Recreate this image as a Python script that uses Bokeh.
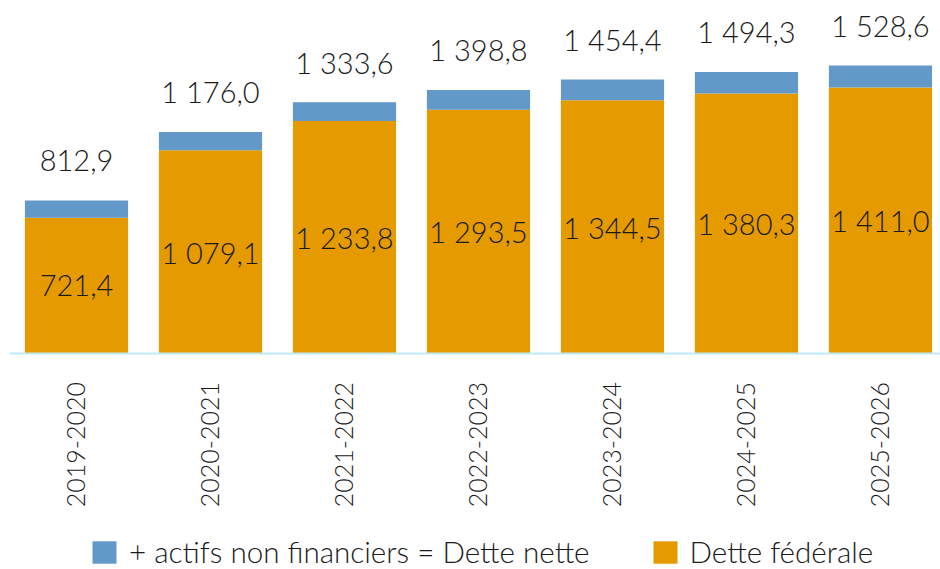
import math
from bokeh.plotting import figure
from bokeh.models import ColumnDataSource, Range1d, FixedTicker, Legend, LegendItem
from bokeh.core.properties import value
from bokeh.embed import file_html
from bokeh.resources import INLINE

years = ["2019-2020", "2020-2021", "2021-2022", "2022-2023", "2023-2024", "2024-2025", "2025-2026"]
dette_federale = [721.4, 1079.1, 1233.8, 1293.5, 1344.5, 1380.3, 1411.0]
dette_nette = [812.9, 1176.0, 1333.6, 1398.8, 1454.4, 1494.3, 1528.6]

ORANGE = "#E59B00"
BLUE = "#6399C9"
FONT = "Lato Light"
TXT = "#1a1a1a"


def fr(v):
    return f"{v:,.1f}".replace(",", " ").replace(".", ",")


xs = list(range(len(years)))
actifs = [n - f for n, f in zip(dette_nette, dette_federale)]
src = ColumnDataSource(dict(
    x=xs,
    federale=dette_federale,
    actifs=actifs,
    nette=dette_nette,
    mid=[f / 2 for f in dette_federale],
    lab_f=[fr(v) for v in dette_federale],
    lab_n=[fr(v) for v in dette_nette],
))

p = figure(width=940, height=569, output_backend="svg", toolbar_location=None,
           x_range=Range1d(-0.5, 6.448), y_range=Range1d(-1141.5, 1830),
           min_border_left=9, min_border_right=0, min_border_top=8, min_border_bottom=0,
           y_axis_location=None)
p.outline_line_color = None
p.grid.visible = False
p.background_fill_color = "white"

rs = p.vbar_stack(["federale", "actifs"], x="x", width=0.77, color=[ORANGE, BLUE],
                  line_color=None, source=src)

p.text(x="x", y="mid", text="lab_f", source=src, text_align="center", text_baseline="middle",
       text_font=value(FONT), text_font_size="29px", text_color=TXT)
p.text(x="x", y="nette", text="lab_n", source=src, text_align="center", text_baseline="alphabetic",
       y_offset=-40, text_font=value(FONT), text_font_size="29px", text_color=TXT)

ax = p.xaxis[0]
ax.fixed_location = 0
ax.ticker = FixedTicker(ticks=xs)
ax.major_label_overrides = {i: y for i, y in zip(xs, years)}
ax.major_label_orientation = math.pi / 2
ax.major_label_text_font = FONT
ax.major_label_text_font_size = "25px"
ax.major_label_text_color = TXT
ax.major_label_standoff = 22
ax.major_tick_line_color = None
ax.minor_tick_line_color = None
ax.axis_line_color = "#BFE9F7"
ax.axis_line_width = 2

legend = Legend(items=[LegendItem(label="+ actifs non financiers = Dette nette", renderers=[rs[1]]),
                       LegendItem(label="Dette fédérale", renderers=[rs[0]])],
                orientation="horizontal", location=(80, 0),
                label_text_font=FONT, label_text_font_size="29.6px", label_text_color=TXT,
                glyph_width=30, glyph_height=28, label_standoff=10, spacing=60,
                padding=0, margin=0, border_line_color=None, background_fill_alpha=0)
p.add_layout(legend, "center")

open("out.html", "w").write(file_html(p, INLINE))
